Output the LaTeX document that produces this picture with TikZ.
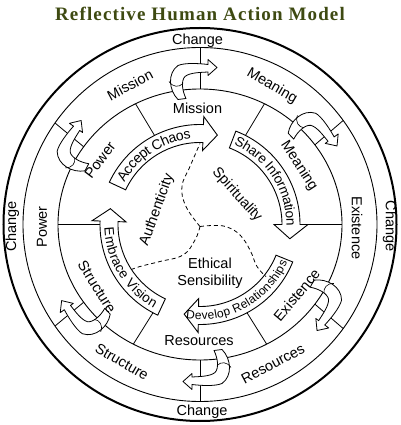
\documentclass[tikz,border=0pt]{standalone}
\usepackage{fontspec}
\setmainfont{Liberation Sans}
\newfontfamily\titlefont[LetterSpace=6]{Liberation Serif}
\usetikzlibrary{decorations.text}
\definecolor{titlegreen}{HTML}{3E4A12}
\newcommand{\labfont}{\fontsize{14.5}{17}\selectfont}
\begin{document}
\begin{tikzpicture}[x=1pt,y=1pt,
  lab/.style={font=\labfont, inner sep=0pt},
  ring/.style={line width=0.9pt},
  divl/.style={line width=0.8pt},
  band/.style={draw, fill=white, line width=0.9pt, line join=miter},
  curlarrow/.style={draw, fill=white, line width=0.8pt, line join=round},
  dsh/.style={dash pattern=on 4pt off 3pt, line width=0.8pt}]
\useasboundingbox (-200,-200.5) rectangle (200,224.5);
\node[font=\titlefont\bfseries\fontsize{19}{19}\selectfont, text=titlegreen] (title) at (0,211) {Reflective Human Action Model};

% rings
\draw[line width=2pt] (0,0) circle[radius=196.5];
\draw[ring] (0,0) circle[radius=177];
\draw[ring] (0,0) ellipse[x radius=142, y radius=135.5];

% dividers
\foreach \a in {90,36,-36,-90,-145,145}
  \draw[divl] ({142*cos(\a)},{135.5*sin(\a)}) -- (\a:177);
\foreach \a in {0,63,117,180,-62,-118}
  \draw[divl] (\a:99) -- ({142*cos(\a)},{135.5*sin(\a)});

% curled transition arrows
\foreach \a in {90,36,-36,-90,-145,145}{
  \begin{scope}[rotate=\a-90]
    \path[curlarrow] (-22,125) .. controls (-31,134) and (-33,151) .. (-22,159)
      .. controls (-15,162) and (0,161) .. (8,160) -- (8,165) -- (17,157) -- (8,149) -- (8,152.5)
      .. controls (0,152) and (-10,152) .. (-15,148)
      .. controls (-19,144) and (-18,134) .. (-14,126) -- cycle;
    \draw[line width=0.6pt] (-31,143) .. controls (-27,137) and (-21,137) .. (-17,141);
  \end{scope}}

% inner band arrows
\draw[band] (155:82) -- (155:100) arc[start angle=155, end angle=88, radius=100]
  -- (88:108) -- (79:91) -- (88:74) -- (88:82) arc[start angle=88, end angle=155, radius=82] -- cycle;
\draw[band] (69:82) -- (69:100) arc[start angle=69, end angle=0, radius=100]
  -- (0:108) -- (-9:91) -- (0:74) -- (0:82) arc[start angle=0, end angle=69, radius=82] -- cycle;
\draw[band] (-22:82) -- (-22:100) arc[start angle=-22, end angle=-91, radius=100]
  -- (-91:108) -- (-100:91) -- (-91:74) -- (-91:82) arc[start angle=-91, end angle=-22, radius=82] -- cycle;
\draw[band] (-115:82) -- (-115:100) arc[start angle=-115, end angle=-182, radius=100]
  -- (-182:108) -- (-190:91) -- (-182:74) -- (-182:82) arc[start angle=-182, end angle=-115, radius=82] -- cycle;

\path[decorate, decoration={text along path, text align=center, raise=-4.8pt,
  text={|\fontsize{14}{14}\selectfont|Accept Chaos}}] (155:91) arc[start angle=155, end angle=92, radius=91];
\path[decorate, decoration={text along path, text align=center, raise=-4.6pt,
  text={|\fontsize{13.5}{14}\selectfont|Share Information}}] (70:91) arc[start angle=70, end angle=-4, radius=91];
\path[decorate, decoration={text along path, text align=center, raise=-4.2pt,
  text={|\fontsize{12}{12}\selectfont|Develop Relationships}}] (-101:91) arc[start angle=-101, end angle=-21, radius=91];
\path[decorate, decoration={text along path, text align=center, raise=-4.6pt,
  text={|\fontsize{13.5}{14}\selectfont|Embrace Vision}}] (178:91) arc[start angle=178, end angle=245, radius=91];

% dashed separators
\draw[dsh] plot[smooth, tension=0.7] coordinates {(0,-2) (-14,18) (-18,38) (-10,58) (0,81)};
\draw[dsh] plot[smooth, tension=0.7] coordinates {(0,-2) (14,-1) (27,-2.5) (40,-10.5) (50,-25.5) (57,-42) (66,-52)};
\draw[dsh] plot[smooth, tension=0.7] coordinates {(0,-2) (-5,-15.5) (-17,-30.5) (-40,-37) (-60,-42) (-71,-46)};

% Change ring labels
\node[lab] (chT) at (-2.5,183.5) {Change};
\node[lab, rotate=-90] (chR) at (189.5,-1.5) {Change};
\node[lab, rotate=90] (chL) at (-187.5,-2) {Change};
\node[lab] (chB) at (2,-187) {Change};

% middle ring labels
\node[lab, rotate=28] (mMission) at (-70,139.5) {Mission};
\node[lab, rotate=-30] (mMeaning) at (72,138.5) {Meaning};
\node[lab, rotate=-90] (mExistence) at (157,-3.5) {Existence};
\node[lab, rotate=28] (mResources) at (73,-139.5) {Resources};
\node[lab, rotate=-30] (mStructure) at (-78,-137.5) {Structure};
\node[lab, rotate=90] (mPower) at (-158,-2.5) {Power};

% inner ring labels
\node[lab] (iMission) at (-2.5,116.5) {Mission};
\node[lab, rotate=-57] (iMeaning) at (99,58.5) {Meaning};
\node[lab, rotate=50] (iExistence) at (96.7,-70.5) {Existence};
\node[lab] (iResources) at (-1,-116.5) {Resources};
\node[lab, rotate=-58] (iStructure) at (-103,-62.5) {Structure};
\node[lab, rotate=53] (iPower) at (-100,64.5) {Power};

% centre labels
\node[lab, rotate=70] (auth) at (-43,14.5) {Authenticity};
\node[lab, rotate=-48] (spir) at (37,29.5) {Spirituality};
\node[lab, align=center] (eth) at (10,-49) {Ethical\\Sensibility};
\end{tikzpicture}
\end{document}
